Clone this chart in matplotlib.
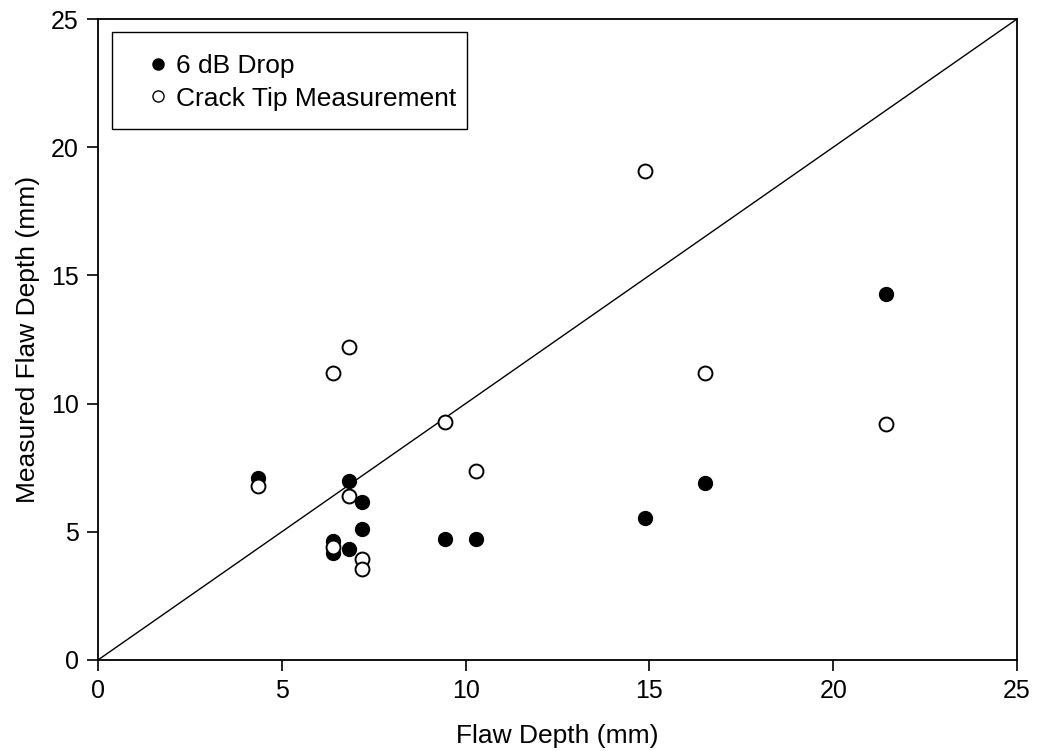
import matplotlib.pyplot as plt
from matplotlib.lines import Line2D
from matplotlib.patches import Rectangle

plt.rcParams['font.family'] = ['Liberation Sans', 'DejaVu Sans']

# flaw depth vs measured depth (mm)
drop_x = [4.36, 6.83, 7.17, 7.17, 6.40, 6.40, 6.83, 9.44, 10.28, 14.88, 16.52, 21.44]
drop_y = [7.11, 6.98, 6.15, 5.11, 4.65, 4.16, 4.32, 4.71, 4.71, 5.55, 6.92, 14.27]

tip_x = [6.83, 6.40, 4.36, 6.83, 6.40, 7.17, 7.17, 9.44, 10.28, 14.88, 16.52, 21.44]
tip_y = [12.22, 11.21, 6.79, 6.41, 4.40, 3.93, 3.54, 9.29, 7.37, 19.07, 11.19, 9.20]

ticks = [0, 5, 10, 15, 20, 25]

fig = plt.figure(figsize=(10.38, 7.51), dpi=100)
ax = fig.add_axes([0.0944, 0.1212, 0.8854, 0.8535])

ax.plot([0, 25], [0, 25], color='black', lw=1.0, zorder=1)
ax.plot(drop_x, drop_y, 'o', ms=10, mfc='black', mec='black', zorder=3)
ax.plot(tip_x, tip_y, 'o', ms=10, mfc='white', mec='black', mew=1.4, zorder=3)

ax.set_xlim(0, 25)
ax.set_ylim(0, 25)
ax.set_xticks(ticks)
ax.set_yticks(ticks)
ax.tick_params(direction='out', length=8, width=1.2, labelsize=18, pad=6)
for s in ax.spines.values():
    s.set_linewidth(1.3)

ax.set_xlabel('Flaw Depth (mm)', fontsize=19, labelpad=15)
ax.set_ylabel('Measured Flaw Depth (mm)', fontsize=19, labelpad=8)

# legend box is drawn separately so the entries can sit off-centre in it
ax.add_patch(Rectangle((0.0152, 0.8284), 0.3863, 0.1513, transform=ax.transAxes,
                       fill=False, ec='black', lw=1.0, zorder=4))
handles = [
    Line2D([], [], marker='o', ls='none', ms=8, mfc='black', mec='black'),
    Line2D([], [], marker='o', ls='none', ms=8, mfc='white', mec='black'),
]
ax.legend(handles, ['6 dB Drop', 'Crack Tip Measurement'],
          loc='upper left', bbox_to_anchor=(0.045, 0.962),
          fontsize=19, frameon=False, handlelength=0.6, handletextpad=0.4,
          borderpad=0.4, labelspacing=0.33, borderaxespad=0)

fig.savefig('out.png', dpi=100)
